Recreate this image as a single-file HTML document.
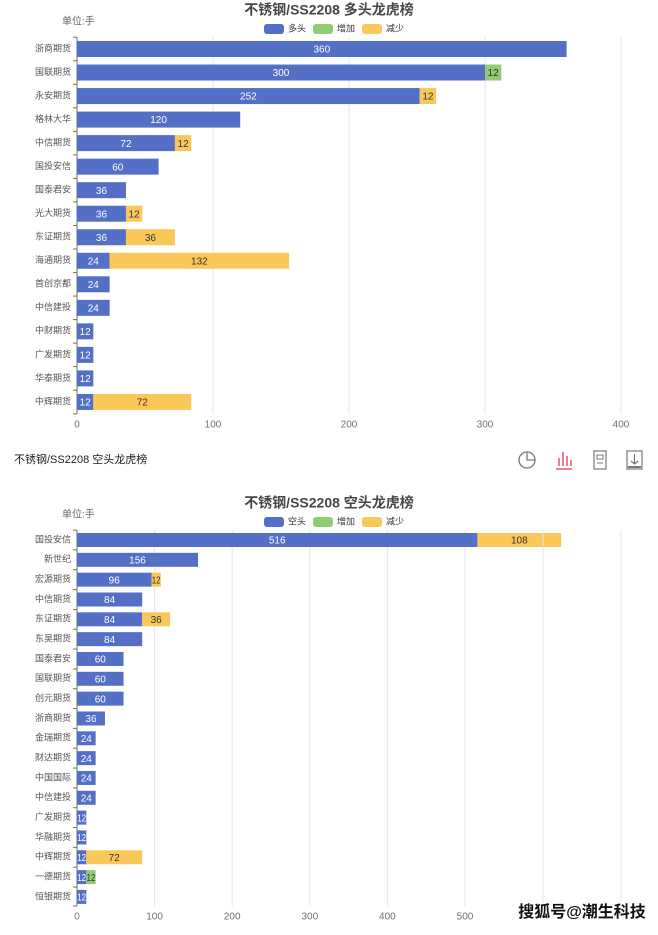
<!DOCTYPE html>
<html><head><meta charset="utf-8"><style>
body{margin:0;background:#fff;width:658px;height:930px;overflow:hidden;font-family:"Liberation Sans","Noto Sans CJK SC",sans-serif}
svg text{font-family:"Liberation Sans","Noto Sans CJK SC",sans-serif}
</style></head><body>
<svg id="s" width="658" height="930" xmlns="http://www.w3.org/2000/svg"></svg>
<script>
const B='#5470c6',G='#91cc75',Y='#fac858';
let h='';
function t(x,y,s,o){o=o||{};h+=`<text x="${x}" y="${y}" font-size="${o.fs||10}" fill="${o.c||'#666'}" text-anchor="${o.a||'start'}" font-weight="${o.w||'normal'}" dominant-baseline="middle"${o.tl?` textLength="${o.tl}" lengthAdjust="spacingAndGlyphs"`:''}>${s}</text>`;}
function r(x,y,w,hh,c){h+=`<rect x="${x}" y="${y}" width="${w}" height="${hh}" fill="${c}" rx="3"/>`;}
function rr(x,y,w,hh,c){h+=`<rect x="${x}" y="${y}" width="${w}" height="${hh}" fill="${c}"/>`;}
function lbl(x,y,v,w,c){if(w<12)t(x,y,v,{c,a:'middle',tl:Math.max(w-0.5,8)});else t(x,y,v,{c,a:'middle'});}
function chart(cfg){
 const x0=77,{sc,ticks,rows,y0,dy,bh,ytop,ybot,title,ty,name}=cfg;
 ticks.forEach(v=>{const x=x0+v*sc;if(v>0)h+=`<line x1="${x}" y1="${ytop}" x2="${x}" y2="${ybot}" stroke="#e0e6f1"/>`;t(x,ybot+11,v,{a:'middle',c:'#6e7079'});});
 h+=`<line x1="${x0}" y1="${ytop}" x2="${x0}" y2="${ybot}" stroke="#6e7079"/>`;
 t(329,ty,title,{fs:14,w:'bold',c:'#464646',a:'middle'});
 t(62,ty+11,'单位:手',{c:'#666'});
 const ly=ty+18;
 r(264,ly-5,20,10,B);t(288,ly,name,{fs:9,c:'#333'});
 r(313,ly-5,20,10,G);t(337,ly,'增加',{fs:9,c:'#333'});
 r(362,ly-5,20,10,Y);t(386,ly,'减少',{fs:9,c:'#333'});
 rows.forEach((rw,i)=>{const yc=y0+dy*i;
  h+=`<line x1="${x0-4}" y1="${yc-dy/2}" x2="${x0}" y2="${yc-dy/2}" stroke="#6e7079"/>`;
  t(x0-6,yc,rw[0],{fs:9,a:'end',c:'#555'});
  const w1=rw[1]*sc;rr(x0,yc-bh/2,w1,bh,B);lbl(x0+w1/2,yc+1,rw[1],w1,'#fff');
  if(rw[2]){const w2=rw[2]*sc,c=rw[3]=='g'?G:Y;rr(x0+w1,yc-bh/2,w2,bh,c);lbl(x0+w1+w2/2,yc+1,rw[2],w2,'#333');}
 });
 h+=`<line x1="${x0-4}" y1="${ybot}" x2="${x0}" y2="${ybot}" stroke="#6e7079"/>`;
}
chart({sc:1.36,ticks:[0,100,200,300,400],y0:49,dy:23.53,bh:16,ytop:37,ybot:414,title:'不锈钢/SS2208 多头龙虎榜',ty:11,name:'多头',
rows:[['浙商期货',360],['国联期货',300,12,'g'],['永安期货',252,12],['格林大华',120],['中信期货',72,12],['国投安信',60],['国泰君安',36],['光大期货',36,12],['东证期货',36,36],['海通期货',24,132],['首创京都',24],['中信建投',24],['中财期货',12],['广发期货',12],['华泰期货',12],['中辉期货',12,72]]});
chart({sc:0.776,ticks:[0,100,200,300,400,500],y0:540,dy:19.83,bh:14,ytop:530,ybot:906,title:'不锈钢/SS2208 空头龙虎榜',ty:504,name:'空头',
rows:[['国投安信',516,108],['新世纪',156],['宏源期货',96,12],['中信期货',84],['东证期货',84,36],['东吴期货',84],['国泰君安',60],['国联期货',60],['创元期货',60],['浙商期货',36],['金瑞期货',24],['财达期货',24],['中国国际',24],['中信建投',24],['广发期货',12],['华融期货',12],['中辉期货',12,72],['一德期货',12,12,'g'],['恒银期货',12]]});
h+=`<line x1="543" y1="530" x2="543" y2="906" stroke="#e0e6f1"/><line x1="621" y1="530" x2="621" y2="906" stroke="#e0e6f1"/>`;
t(14,460,'不锈钢/SS2208 空头龙虎榜',{fs:11,c:'#222'});
h+=`<circle cx="527" cy="460" r="8" fill="none" stroke="#777" stroke-width="1.3"/><path d="M527 452 V460 H535" fill="none" stroke="#777" stroke-width="1.3"/>`;
h+=`<g stroke="#e43c59" stroke-width="1.3"><line x1="556" y1="469" x2="572" y2="469"/><line x1="559" y1="466" x2="559" y2="458"/><line x1="563" y1="466" x2="563" y2="452"/><line x1="567" y1="466" x2="567" y2="456"/><line x1="571" y1="466" x2="571" y2="460"/></g>`;
h+=`<rect x="594" y="451" width="12" height="18" fill="none" stroke="#777" stroke-width="1.2"/><rect x="597" y="455" width="6" height="4" fill="none" stroke="#777"/><line x1="597" y1="463" x2="603" y2="463" stroke="#777"/>`;
h+=`<rect x="627" y="451" width="15" height="18" fill="none" stroke="#777" stroke-width="1.2"/><path d="M634.5 454 V464 M631 461 L634.5 464 L638 461" fill="none" stroke="#777" stroke-width="1.2"/><line x1="628" y1="467" x2="641" y2="467" stroke="#777" stroke-width="2"/>`;
t(582,913,'搜狐号@潮生科技',{fs:16,c:'#111',a:'middle',w:'bold'});
document.getElementById('s').innerHTML=h;
</script>
</body></html>
